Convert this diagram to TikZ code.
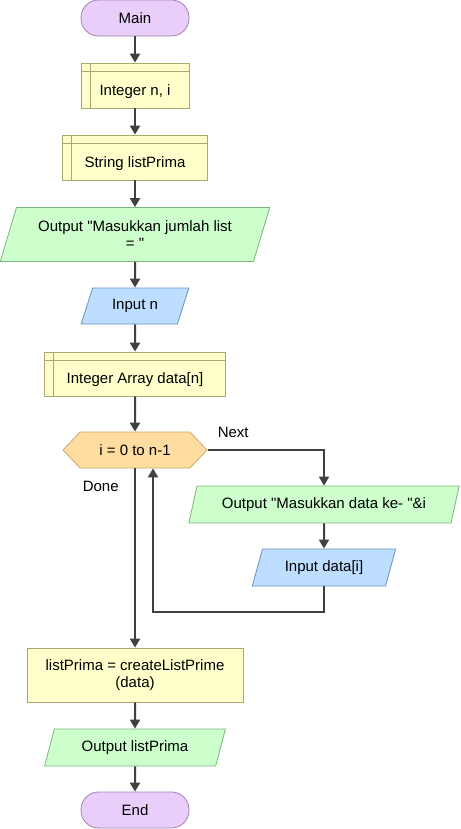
\documentclass[tikz,border=0pt]{standalone}
\usepackage{fontspec}
\newfontfamily\flowfont{Liberation Sans}
\usetikzlibrary{arrows.meta,shapes.geometric,shapes.misc,shapes.symbols,positioning}
\definecolor{mypurple}{RGB}{234,206,250}
\definecolor{mypurpleline}{RGB}{160,128,180}
\definecolor{myyellow}{RGB}{255,255,204}
\definecolor{myyellowline}{RGB}{170,170,110}
\definecolor{mygreen}{RGB}{204,255,204}
\definecolor{mygreenline}{RGB}{125,180,125}
\definecolor{myblue}{RGB}{190,222,255}
\definecolor{mybleuline}{RGB}{105,145,190}
\definecolor{myorange}{RGB}{255,220,160}
\definecolor{myorangeline}{RGB}{200,170,110}
\definecolor{myarrow}{RGB}{64,64,64}

\begin{document}
\begin{tikzpicture}[
  x=1pt,
  y=-1pt,
  font=\flowfont\fontsize{15}{17.5}\selectfont,
  myterm/.style={
    draw=mypurpleline,
    fill=mypurple,
    line width=0.8pt,
    rectangle,
    rounded corners=17.5pt,
    minimum width=108pt,
    minimum height=36pt
    },
  mydecl/.style={
    draw=myyellowline,
    fill=myyellow,
    line width=0.8pt,
    rectangle,
    inner sep=0pt,
    minimum height=45pt,
    execute at begin node={\rule[-5pt]{0pt}{29.5pt}},
    path picture={
      \draw[myyellowline,line width=0.8pt]
        ([xshift=9pt]path picture bounding box.north west) -- ([xshift=9pt]path picture bounding box.south west)
        ([yshift=-8pt]path picture bounding box.north west) -- ([yshift=-8pt]path picture bounding box.north east);
      }
    },
  myproc/.style={
    draw=myyellowline,
    fill=myyellow,
    line width=0.8pt,
    rectangle,
    align=center,
    inner sep=0pt
    },
  myout/.style={
    draw=mygreenline,
    fill=mygreen,
    line width=0.8pt,
    trapezium,
    trapezium left angle=65,
    trapezium right angle=115,
    trapezium stretches=true,
    align=center,
    inner sep=0pt,
    minimum height=37pt
    },
  myin/.style={
    myout,
    draw=mybleuline,
    fill=myblue
    },
  myloop/.style={
    draw=myorangeline,
    fill=myorange,
    line width=0.8pt,
    signal,
    signal to=west and east,
    signal pointer angle=93,
    inner sep=0pt,
    minimum width=144pt,
    minimum height=36pt
    },
  myarr/.style={
    draw=myarrow,
    line width=2pt,
    -{Triangle[length=9pt,width=10pt]}
    }
]

\useasboundingbox (0,0) rectangle (460,829);

\node[myterm] (main) at (135,18) {Main};
\node[mydecl, minimum width=108pt] (intni) at (135,85.5) {Integer n, i};
\node[mydecl, minimum width=145pt] (strlist) at (135,157.5) {String listPrima};
\node[myout, minimum width=270pt, minimum height=54pt] (outjml) at (135,234.5)
  {Output "Masukkan jumlah list\\= "};
\node[myin, minimum width=108pt, minimum height=36pt] (inpn) at (135,306) {Input n};
\node[mydecl, minimum width=181pt, minimum height=44pt] (arrdata) at (135,374) {Integer Array data[n]};
\node[myloop] (loop) at (135,450) {i = 0 to n-1};
\node[myout, minimum width=271pt] (outdata) at (324,504.5) {Output "Masukkan data ke- "\&i};
\node[myin, minimum width=144pt] (inpdata) at (324,567.5) {Input data[i]};
\node[myproc, minimum width=216pt, minimum height=54pt] (listp) at (135,675)
  {listPrima = createListPrime\\(data)};
\node[myout, minimum width=181pt] (outlp) at (135,747.5) {Output listPrima};
\node[myterm] (end) at (135,810) {End};

\draw[myarr] (main) -- (intni);
\draw[myarr] (intni) -- (strlist);
\draw[myarr] (strlist) -- (outjml);
\draw[myarr] (outjml) -- (inpn);
\draw[myarr] (inpn) -- (arrdata);
\draw[myarr] (arrdata) -- (loop);
\draw[myarr] (loop.east) -| node[pos=0.11, above=8pt, text=black] (next) {Next} (outdata.north);
\draw[myarr] (outdata) -- (inpdata);
\draw[myarr] (inpdata.south) -- ++(0,26) -| ([xshift=18pt]loop.south);
\draw[myarr] (loop.south) -- node[pos=0.1, left=12pt, text=black] (done) {Done} (listp.north);
\draw[myarr] (listp) -- (outlp);
\draw[myarr] (outlp) -- (end);

\end{tikzpicture}
\end{document}
